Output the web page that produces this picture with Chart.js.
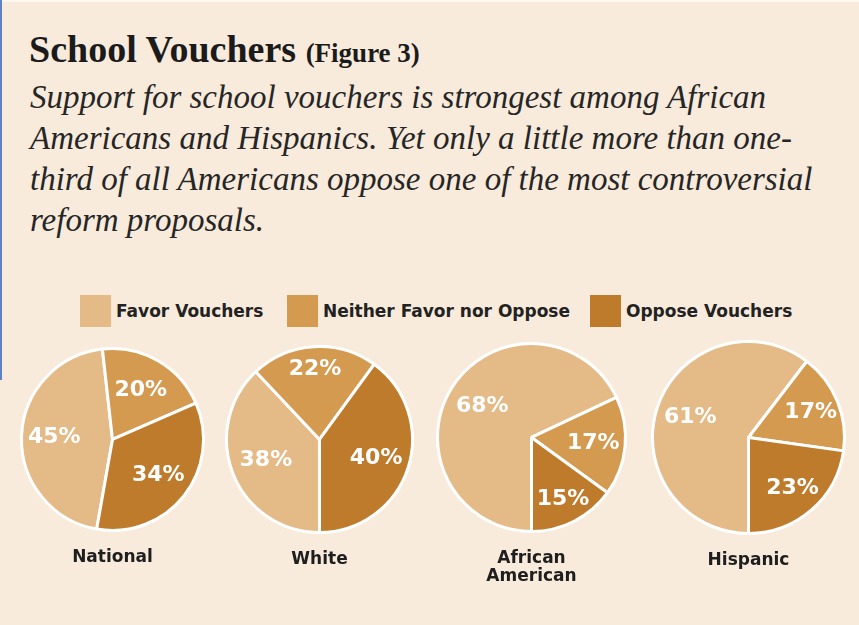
<!DOCTYPE html>
<html>
<head>
<meta charset="utf-8">
<script src="https://cdn.jsdelivr.net/npm/chart.js@4.4.1/dist/chart.umd.min.js"></script>
<style>
  html, body { margin: 0; padding: 0; }
  body {
    width: 859px; height: 625px; overflow: hidden; position: relative;
    background: #f8ebdc;
  }
  .edge-left { position: absolute; left: 0; top: 0; width: 2px; height: 380px; background: #5f82c4; }
  .edge-top { position: absolute; left: 0; top: 0; width: 859px; height: 2px; background: #fdf7f0; }
  .title {
    position: absolute; left: 29px; top: 31px; white-space: nowrap;
    font-family: "Liberation Serif", serif; font-weight: bold; color: #1b1b1b;
    font-size: 38px; line-height: 36px;
  }
  .title small { font-size: 27px; }
  .subtitle {
    position: absolute; left: 30px; top: 77px; white-space: nowrap;
    font-family: "Liberation Serif", serif; font-style: italic; color: #262626;
    font-size: 33px; line-height: 41px;
  }
  .legend { position: absolute; top: 295px; left: 0; }
  .legend .item { position: absolute; top: 0; display: flex; align-items: center; white-space: nowrap; }
  .legend .swatch { width: 31px; height: 32px; margin-right: 5px; }
  .legend .label {
    font-family: "DejaVu Sans", sans-serif; font-weight: bold; font-size: 17px; color: #222;
  }
  canvas { position: absolute; }
</style>
</head>
<body>
<div class="edge-top"></div>
<div class="edge-left"></div>
<div class="title">School Vouchers <small>(Figure 3)</small></div>
<div class="subtitle">Support for school vouchers is strongest among African<br>Americans and Hispanics. Yet only a little more than one-<br>third of all Americans oppose one of the most controversial<br>reform proposals.</div>
<div class="legend" id="legend"></div>

<script>
// Survey groups and answer shares (percent)
const groups = ['National', 'White', ['African', 'American'], 'Hispanic'];
const answers = ['Favor Vouchers', 'Neither Favor nor Oppose', 'Oppose Vouchers'];
const favor   = [45, 38, 68, 61];
const neither = [20, 22, 17, 17];
const oppose  = [34, 40, 15, 23];

// Styling and placement
const colors = ['#e4ba86', '#d49a50', '#bf7b2c'];
const pies = [
  { cx: 112, cy: 439, r: 91, rotation: 190, labelRadius: [0.64, 0.62, 0.64] },
  { cx: 319, cy: 439, r: 93, rotation: 180, labelRadius: [0.62, 0.76, 0.64] },
  { cx: 531, cy: 437, r: 94, rotation: 180, labelRadius: [0.62, 0.66, 0.74] },
  { cx: 748, cy: 437, r: 96, rotation: 180, labelRadius: [0.64, 0.70, 0.70] }
];
const legendX = [80, 287, 590];

// Legend
const legendEl = document.getElementById('legend');
answers.forEach((name, i) => {
  const item = document.createElement('div');
  item.className = 'item';
  item.style.left = legendX[i] + 'px';
  item.innerHTML = '<div class="swatch" style="background:' + colors[i] + '"></div><div class="label">' + name + '</div>';
  legendEl.appendChild(item);
});

// Percentage labels inside each slice
const sliceLabels = {
  id: 'sliceLabels',
  afterDatasetsDraw(chart, args, opts) {
    const ctx = chart.ctx;
    const meta = chart.getDatasetMeta(0);
    const values = chart.data.datasets[0].data;
    ctx.save();
    ctx.font = opts.font;
    ctx.fillStyle = opts.color;
    ctx.textAlign = 'center';
    ctx.textBaseline = 'middle';
    meta.data.forEach((arc, i) => {
      const p = arc.getProps(['x', 'y', 'startAngle', 'endAngle', 'outerRadius'], true);
      const mid = (p.startAngle + p.endAngle) / 2;
      const rr = p.outerRadius * opts.radius[i];
      ctx.fillText(values[i] + '%', p.x + Math.cos(mid) * rr, p.y + Math.sin(mid) * rr);
    });
    ctx.restore();
  }
};

const border = 3, pad = 4;
const titleFont = { family: 'DejaVu Sans', size: 17, weight: 'bold', lineHeight: 1.06 };
const titlePadTop = 17;

groups.forEach((group, g) => {
  const cfg = pies[g];
  const lines = Array.isArray(group) ? group.length : 1;
  const titleBox = lines * titleFont.size * titleFont.lineHeight + titlePadTop;
  const side = 2 * cfg.r + border;
  const canvas = document.createElement('canvas');
  canvas.width = side + 2 * pad;
  canvas.height = side + 2 * pad + titleBox;
  canvas.style.left = (cfg.cx - side / 2 - pad) + 'px';
  canvas.style.top = (cfg.cy - side / 2 - pad) + 'px';
  document.body.appendChild(canvas);

  new Chart(canvas, {
    type: 'pie',
    data: {
      labels: answers,
      datasets: [{
        data: [favor[g], neither[g], oppose[g]],
        backgroundColor: colors,
        borderColor: '#ffffff',
        borderWidth: border,
        hoverBorderWidth: border
      }]
    },
    options: {
      responsive: false,
      animation: false,
      devicePixelRatio: 1,
      rotation: cfg.rotation,
      layout: { padding: pad },
      plugins: {
        legend: { display: false },
        tooltip: { enabled: false },
        title: {
          display: true,
          position: 'bottom',
          text: group,
          color: '#1e1e1e',
          font: titleFont,
          padding: { top: titlePadTop, bottom: 0 }
        },
        sliceLabels: {
          font: 'bold 22px "DejaVu Sans"',
          color: '#ffffff',
          radius: cfg.labelRadius
        }
      }
    },
    plugins: [sliceLabels]
  });
});
</script>
</body>
</html>
